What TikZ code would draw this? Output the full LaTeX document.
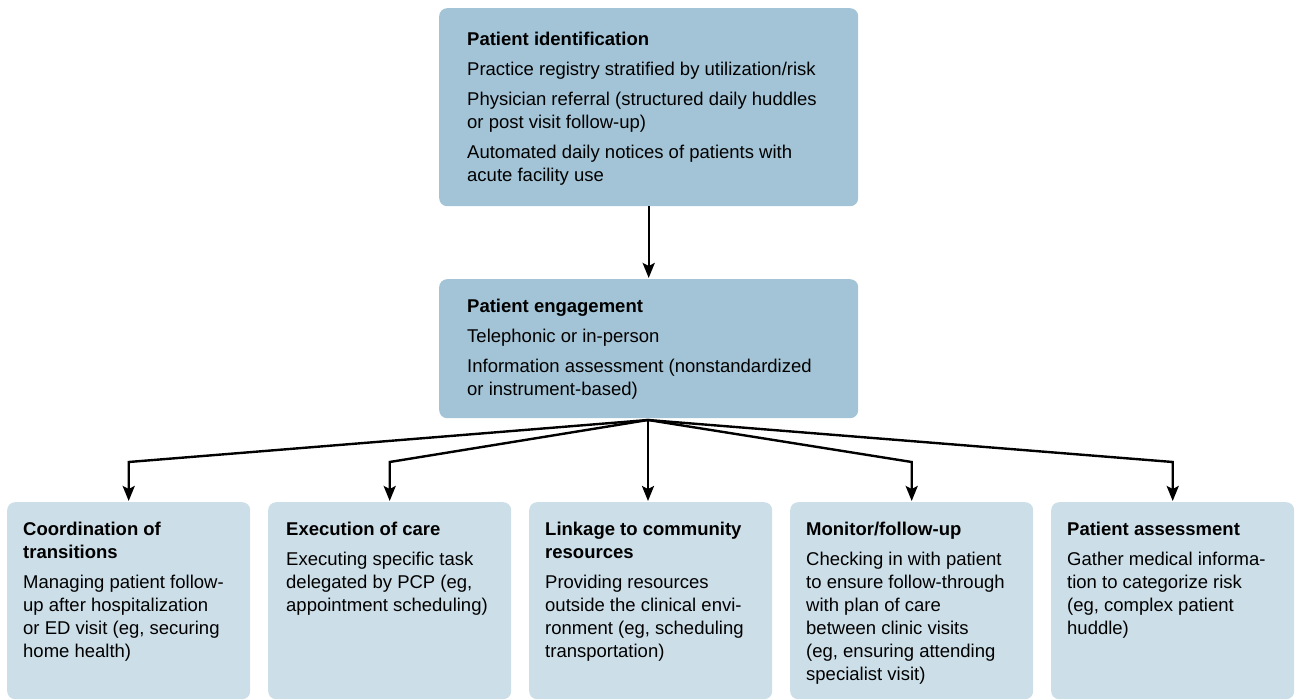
\documentclass[tikz,border=0pt]{standalone}
\usepackage{fontspec}
\setmainfont{Liberation Sans}
\usetikzlibrary{arrows.meta}
\definecolor{topblue}{RGB}{163,196,214}
\definecolor{lowblue}{RGB}{204,222,231}
\newcommand\boxlines[1]{\vtop{\baselineskip=23pt\lineskiplimit=-20pt\lineskip=0pt\halign{##\hfil\cr#1\crcr}}}
\newcommand\pgap{\noalign{\vskip7pt}}
\newcommand\ttl[1]{\textbf{#1}}
\tikzset{
  upbox/.style={fill=topblue, draw=none, rounded corners=8pt, inner sep=0pt, anchor=north west, minimum width=419pt},
  lowbox/.style={fill=lowblue, draw=none, rounded corners=8pt, inner sep=0pt, anchor=north west, minimum width=243pt, minimum height=197pt},
  txt/.style={anchor=base west, inner sep=0pt, text=black},
  arr/.style={draw=black, line width=2.4pt, -{Stealth[length=15pt,width=12pt,inset=3pt]}, shorten >=1pt}
}
\begin{document}
\begin{tikzpicture}[x=1pt,y=-1pt,font=\fontsize{18.5}{23}\selectfont]
\useasboundingbox (0,0) rectangle (1296,700);
% boxes
\node[upbox, minimum height=198pt] (top) at (439,8) {};
\node[upbox, minimum height=139pt] (mid) at (439,279) {};
\node[lowbox] (b1) at (7,502) {};
\node[lowbox] (b2) at (268,502) {};
\node[lowbox] (b3) at (529,502) {};
\node[lowbox] (b4) at (790,502) {};
\node[lowbox] (b5) at (1051,502) {};
% texts
\node[txt] (toptext) at (467,46) {\boxlines{\ttl{Patient identification}\cr\pgap
Practice registry stratified by utilization/risk\cr\pgap
Physician referral (structured daily huddles\cr
or post visit follow-up)\cr\pgap
Automated daily notices of patients with\cr
acute facility use}};
\node[txt] (midtext) at (467,313) {\boxlines{\ttl{Patient engagement}\cr\pgap
Telephonic or in-person\cr\pgap
Information assessment (nonstandardized\cr
or instrument-based)}};
\node[txt] (b1text) at (23,535) {\boxlines{\ttl{Coordination of}\cr
\ttl{transitions}\cr\pgap
Managing patient follow-\cr
up after hospitalization\cr
or ED visit (eg, securing\cr
home health)}};
\node[txt] (b2text) at (286,535) {\boxlines{\ttl{Execution of care}\cr\pgap
Executing specific task\cr
delegated by PCP (eg,\cr
appointment scheduling)}};
\node[txt] (b3text) at (545,535) {\boxlines{\ttl{Linkage to community}\cr
\ttl{resources}\cr\pgap
Providing resources\cr
outside the clinical envi-\cr
ronment (eg, scheduling\cr
transportation)}};
\node[txt] (b4text) at (806,535) {\boxlines{\ttl{Monitor/follow-up}\cr\pgap
Checking in with patient\cr
to ensure follow-through\cr
with plan of care\cr
between clinic visits\cr
(eg, ensuring attending\cr
specialist visit)}};
\node[txt] (b5text) at (1067,535) {\boxlines{\ttl{Patient assessment}\cr\pgap
Gather medical informa-\cr
tion to categorize risk\cr
(eg, complex patient\cr
huddle)}};
% connectors
\coordinate (hub) at (648,420);
\coordinate (elbow) at (0,462);
\draw[arr] (top.south) -- (mid.north);
\draw[arr, line join=miter] (hub) -- (b1.north |- elbow) -- (b1.north);
\draw[arr, line join=miter] (hub) -- (b2.north |- elbow) -- (b2.north);
\draw[arr] (hub) -- (hub |- b3.north);
\draw[arr, line join=miter] (hub) -- (b4.north |- elbow) -- (b4.north);
\draw[arr, line join=miter] (hub) -- (b5.north |- elbow) -- (b5.north);
\end{tikzpicture}
\end{document}
